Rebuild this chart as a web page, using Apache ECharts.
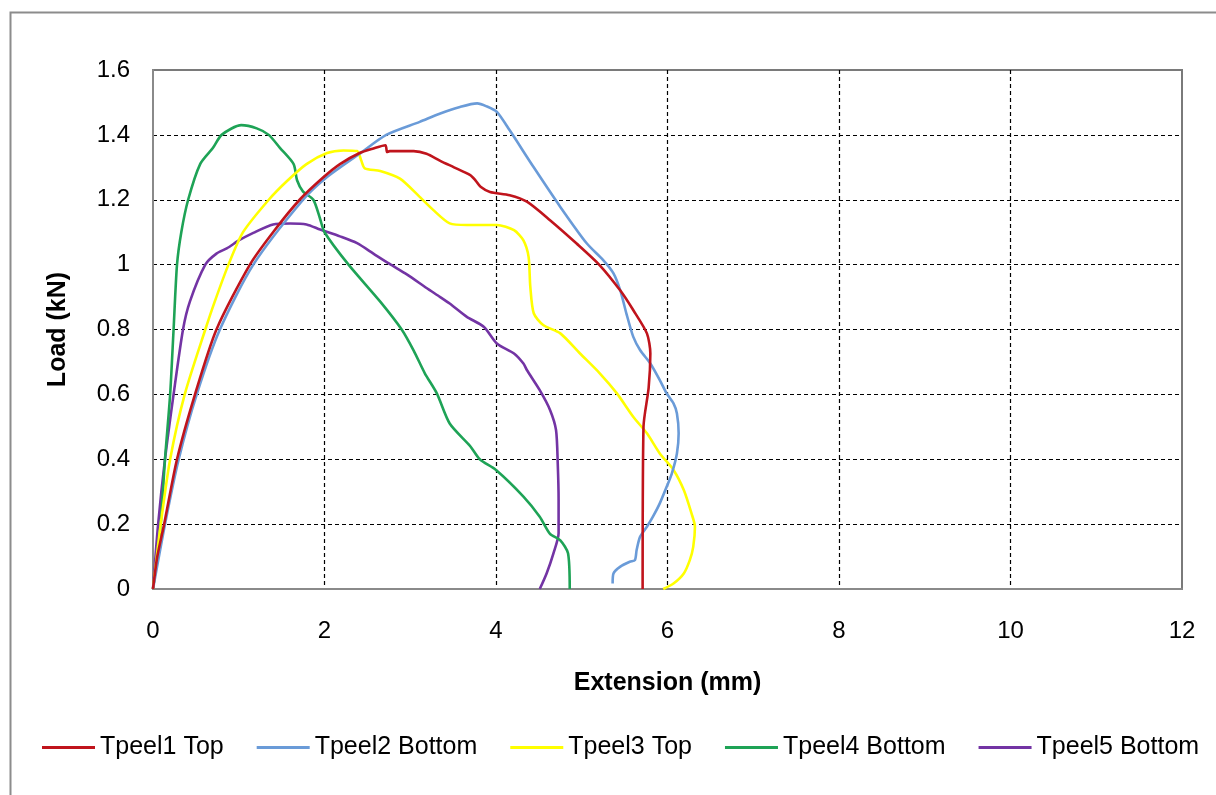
<!DOCTYPE html>
<html>
<head>
<meta charset="utf-8">
<script src="https://cdn.jsdelivr.net/npm/echarts@6/dist/echarts.min.js"></script>
<style>
  html, body { margin: 0; padding: 0; background: #fff; }
  #chart { width: 1216px; height: 795px; }
</style>
</head>
<body>
<div id="chart"></div>
<script>
// ---- Data (Extension mm, Load kN) ----
const seriesNames = ['Tpeel1 Top', 'Tpeel2 Bottom', 'Tpeel3 Top', 'Tpeel4 Bottom', 'Tpeel5 Bottom'];

const tpeel1Top = [
  [0,0],[0.05,0.1],[0.13,0.2],[0.28,0.4],[0.49,0.6],[0.74,0.8],[1.13,1.0],[1.40,1.10],[1.71,1.2],
  [1.99,1.27],[2.18,1.31],[2.41,1.344],[2.57,1.358],[2.71,1.368],[2.73,1.347],[2.76,1.35],[3.04,1.35],
  [3.19,1.342],[3.35,1.32],[3.51,1.30],[3.70,1.276],[3.76,1.26],[3.82,1.24],[3.93,1.224],[4.16,1.214],
  [4.36,1.194],[4.63,1.137],[4.94,1.065],[5.21,0.998],[5.45,0.92],[5.60,0.86],[5.76,0.788],[5.80,0.726],
  [5.78,0.62],[5.72,0.50],[5.71,0]
];

const tpeel2Bottom = [
  [0,0],[0.14,0.2],[0.30,0.4],[0.51,0.6],[0.78,0.8],[1.17,1.0],[1.75,1.2],[2.03,1.27],[2.41,1.342],
  [2.72,1.4],[3.11,1.44],[3.35,1.466],[3.58,1.486],[3.78,1.497],[3.89,1.488],[4.01,1.471],[4.16,1.414],
  [4.44,1.30],[4.75,1.178],[5.06,1.065],[5.25,1.014],[5.37,0.973],[5.45,0.92],[5.52,0.85],[5.60,0.778],
  [5.68,0.737],[5.80,0.695],[5.91,0.644],[5.99,0.603],[6.07,0.572],[6.11,0.541],[6.13,0.48],[6.11,0.418],
  [6.05,0.356],[5.99,0.315],[5.91,0.264],[5.83,0.223],[5.76,0.192],[5.68,0.161],[5.64,0.12],[5.62,0.089],
  [5.56,0.084],[5.45,0.069],[5.37,0.048],[5.36,0.017]
];

const tpeel3Top = [
  [0,0],[0.09,0.2],[0.2,0.4],[0.37,0.6],[0.61,0.8],[0.72,0.886],[0.88,1.0],[1.05,1.10],[1.35,1.2],
  [1.56,1.257],[1.79,1.31],[2.03,1.344],[2.22,1.352],[2.38,1.35],[2.43,1.32],[2.47,1.297],[2.65,1.289],
  [2.88,1.265],[3.11,1.209],[3.27,1.168],[3.46,1.127],[3.66,1.122],[4.01,1.122],[4.21,1.106],[4.32,1.075],
  [4.38,1.024],[4.40,0.932],[4.44,0.85],[4.55,0.814],[4.75,0.788],[4.98,0.726],[5.21,0.665],[5.41,0.603],
  [5.60,0.531],[5.76,0.48],[5.91,0.418],[6.07,0.367],[6.19,0.305],[6.28,0.233],[6.32,0.192],[6.30,0.13],
  [6.26,0.089],[6.19,0.048],[6.07,0.017],[5.95,0]
];

const tpeel4Bottom = [
  [0,0],[0.05,0.1],[0.09,0.2],[0.14,0.4],[0.2,0.6],[0.24,0.8],[0.28,1.0],[0.33,1.10],[0.41,1.2],
  [0.55,1.31],[0.70,1.36],[0.80,1.40],[1.03,1.43],[1.21,1.42],[1.35,1.40],[1.48,1.36],[1.64,1.31],
  [1.68,1.26],[1.75,1.225],[1.87,1.2],[1.95,1.14],[2.0,1.10],[2.28,1.0],[2.65,0.886],[2.9,0.8],
  [3.04,0.735],[3.17,0.665],[3.31,0.603],[3.46,0.51],[3.70,0.44],[3.81,0.40],[4.0,0.367],[4.32,0.285],
  [4.51,0.223],[4.63,0.17],[4.75,0.15],[4.84,0.11],[4.86,0]
];

const tpeel5Bottom = [
  [0,0],[0.06,0.2],[0.14,0.4],[0.24,0.6],[0.35,0.8],[0.43,0.886],[0.61,1.0],[0.74,1.034],[0.86,1.05],
  [1.01,1.076],[1.17,1.098],[1.40,1.124],[1.60,1.127],[1.79,1.124],[1.95,1.108],[2.18,1.087],[2.38,1.066],
  [2.57,1.034],[2.76,1.002],[2.96,0.97],[3.19,0.928],[3.35,0.9],[3.46,0.88],[3.66,0.839],[3.86,0.808],
  [4.01,0.757],[4.21,0.726],[4.32,0.695],[4.36,0.675],[4.51,0.613],[4.63,0.552],[4.70,0.49],[4.72,0.387],
  [4.73,0.274],[4.73,0.172],[4.67,0.11],[4.59,0.048],[4.51,0]
];

const seriesData = [tpeel1Top, tpeel2Bottom, tpeel3Top, tpeel4Bottom, tpeel5Bottom];
const seriesColors = ['#C0141C', '#6A9BD8', '#FFFF00', '#1EA356', '#7334A4'];

const xTicks = { min: 0, max: 12, interval: 2 };
const yTicks = { min: 0, max: 1.6, interval: 0.2 };

const FONT = '"Liberation Sans", Arial, sans-serif';

const chart = echarts.init(document.getElementById('chart'));

const option = {
  backgroundColor: '#fff',
  animation: false,
  graphic: [{
    type: 'rect',
    left: 8, top: 10,
    shape: { width: 1400, height: 1000 },
    style: { fill: 'none', stroke: '#8c8c8c', lineWidth: 2 },
    silent: true, z: -10
  }],
  grid: {
    left: 153, right: 34, top: 70, bottom: 206,
    show: true, borderColor: '#7a7a7a', borderWidth: 2, backgroundColor: 'transparent'
  },
  legend: {
    data: seriesNames.map(n => ({ name: n, icon: 'rect' })),
    left: 42, top: 735, padding: 0,
    itemWidth: 53, itemHeight: 3, itemGap: 33,
    textStyle: { fontFamily: FONT, fontSize: 25, color: '#000' }
  },
  xAxis: {
    type: 'value', min: xTicks.min, max: xTicks.max, interval: xTicks.interval,
    name: 'Extension (mm)', nameLocation: 'middle', nameGap: 82,
    nameTextStyle: { fontFamily: FONT, fontSize: 25, fontWeight: 'bold', color: '#000' },
    axisLine: { show: true, lineStyle: { color: '#8a8a8a', width: 2 } },
    axisTick: { show: false },
    axisLabel: { fontFamily: FONT, fontSize: 24, color: '#000', margin: 30 },
    splitLine: { show: true, showMinLine: false, showMaxLine: false,
      lineStyle: { color: '#000', type: [4, 3], width: 1.2 } }
  },
  yAxis: {
    type: 'value', min: yTicks.min, max: yTicks.max, interval: yTicks.interval,
    name: 'Load (kN)', nameLocation: 'middle', nameGap: 82, nameRotate: 90,
    nameTextStyle: { fontFamily: FONT, fontSize: 25, fontWeight: 'bold', color: '#000' },
    axisLine: { show: true, lineStyle: { color: '#8a8a8a', width: 2 } },
    axisTick: { show: false },
    axisLabel: { fontFamily: FONT, fontSize: 24, color: '#000', margin: 23,
      formatter: v => String(+v.toFixed(1)) },
    splitLine: { show: true, showMinLine: false, showMaxLine: false,
      lineStyle: { color: '#000', type: [4, 3], width: 1.2 } }
  },
  series: seriesNames.map((name, i) => ({
    name: name,
    type: 'line',
    data: seriesData[i],
    symbol: 'none',
    showSymbol: false,
    smooth: 0.25,
    color: seriesColors[i],
    lineStyle: { width: 2.6, color: seriesColors[i] },
    z: 3 + (4 - i)
  }))
};

chart.setOption(option);
</script>
</body>
</html>
